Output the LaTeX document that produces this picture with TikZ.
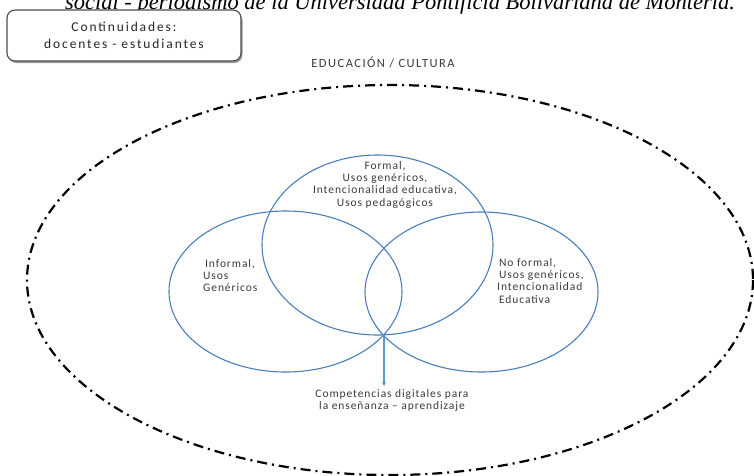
\documentclass[tikz,border=0pt]{standalone}
\usepackage{fontspec}
\setmainfont{Carlito}
\newfontfamily\captionserif{Liberation Serif}
\newfontfamily\labelfont[LetterSpace=8]{Carlito}
\newfontfamily\boxfont[LetterSpace=14]{Carlito}
\newfontfamily\ctxfont[LetterSpace=12]{Carlito}
\usetikzlibrary{arrows.meta}
\definecolor{vennblue}{HTML}{4A7EBB}
\definecolor{arrowblue}{HTML}{5B9BD5}
\definecolor{labelgray}{HTML}{3A3A3A}
\begin{document}
\begin{tikzpicture}[x=1pt,y=-1pt,
  venn/.style={draw=vennblue,line width=1.1pt},
  outerring/.style={draw=black,line width=2.2pt,
    dash pattern=on 10pt off 5pt on 2pt off 5pt},
  lbl/.style={text=labelgray,font=\labelfont\fontsize{11.5}{12.3}\selectfont,inner sep=0pt},
  titlebox/.style={draw=black!70,line width=1.1pt,rounded corners=8pt,
    fill=white,minimum width=234pt,minimum height=51pt,align=center,
    font=\boxfont\fontsize{13.5}{17}\selectfont,text=black!85}
]
\useasboundingbox (0,0) rectangle (754,475);
\clip (0,0) rectangle (754,475);

% caption line above the figure
\node[anchor=base,inner sep=0pt,font=\captionserif\itshape\fontsize{22.5}{22.5}\selectfont]
  (cap) at (400,9) {social - periodismo de la Universidad Pontificia Bolivariana de Montería.};

% title box with a soft shadow
\fill[black!40,rounded corners=8pt] (8.5,12.5) rectangle (242.5,63);
\node[titlebox] (box) at (124,35.5) {Continuidades:\\docentes - estudiantes};

% outer context ring
\draw[outerring] (390,280) ellipse [x radius=363, y radius=195];
\node[text=labelgray,inner sep=0pt,font=\ctxfont\fontsize{12.5}{13}\selectfont]
  (ctx) at (383,63) {EDUCACIÓN / CULTURA};

% three overlapping circles
\draw[venn] (377.5,245) ellipse [x radius=115.5, y radius=90];
\draw[venn] (285.5,291.5) ellipse [x radius=116.5, y radius=80.5];
\draw[venn] (481.5,292) ellipse [x radius=116.5, y radius=80];

\node[lbl,align=center,anchor=north] (formal) at (385,161)
  {Formal,\\Usos genéricos,\\Intencionalidad educativa,\\Usos pedagógicos};
\node[lbl,align=left,anchor=north west] (informal) at (203,259)
  {\,Informal,\\Usos\\Genéricos};
\node[lbl,align=left,anchor=north west] (noformal) at (497,258)
  {\,No formal,\\\,Usos genéricos,\\Intencionalidad\\\,Educativa};

% result of the intersection
\coordinate (meet) at (384,335);
\node[lbl,align=center,anchor=north] (comp) at (392,389)
  {Competencias digitales para\\la enseñanza – aprendizaje};
\draw[arrowblue,line width=1.1pt,-{Latex[length=5pt,width=4pt]}] (meet) -- (384,387);
\end{tikzpicture}
\end{document}
